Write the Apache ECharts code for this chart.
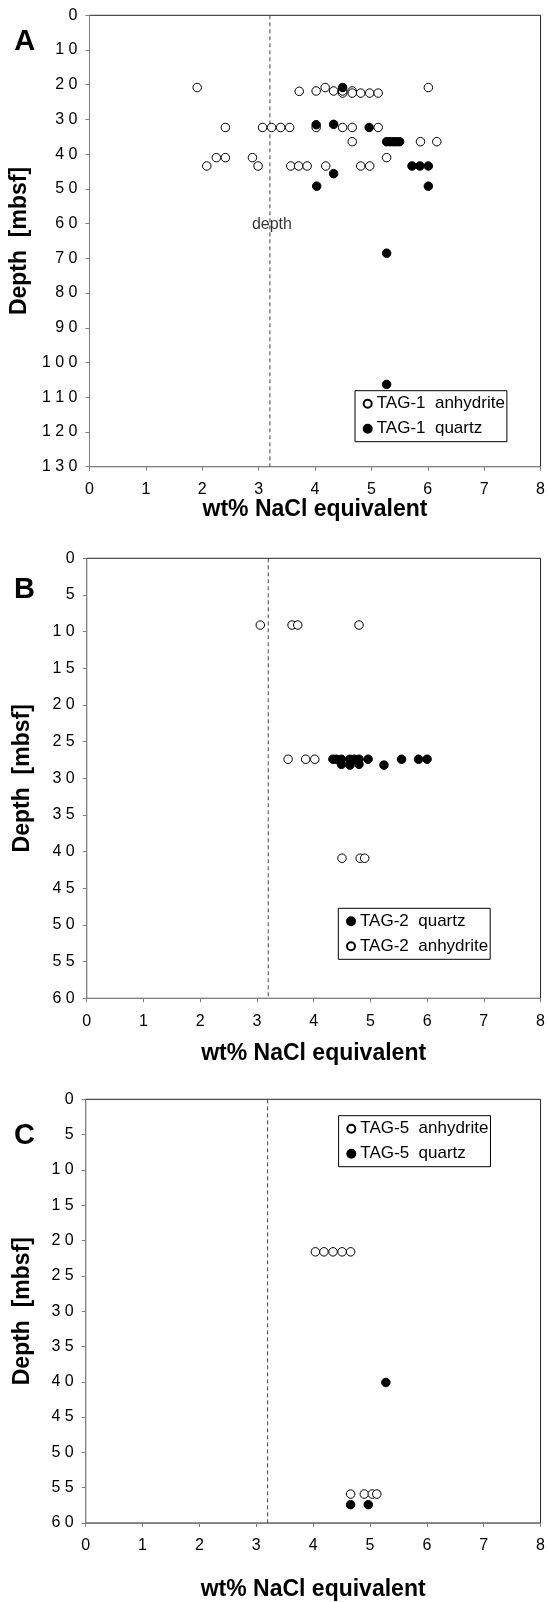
<!DOCTYPE html>
<html>
<head>
<meta charset="utf-8">
<script src="https://cdn.jsdelivr.net/npm/echarts@6/dist/echarts.min.js"></script>
<style>
html,body{margin:0;padding:0;background:#fff;}
#chart{width:548px;height:1602px;}
</style>
</head>
<body>
<div id="chart"></div>
<script>
// ---------- data ----------
const wtRange = [0, 8, 1];            // x axis min, max, step (wt% NaCl equivalent)
const depthRangeA = [0, 130, 10];     // y axis ranges (mbsf)
const depthRangeB = [0, 60, 5];
const depthRangeC = [0, 60, 5];
const seawaterWt = 3.2;               // dashed reference line
const depthLabelPoint = [3.2, 60.4];
const depthLabelText = 'depth';

const xName = 'wt% NaCl equivalent';
const yName = 'Depth  [mbsf]';
const panelLetters = ['A', 'B', 'C'];

// Panel A (TAG-1)
const tag1Anhydrite = [
  [1.91,20.8],[6.01,20.8],[3.72,21.9],[4.02,21.8],[4.18,20.8],[4.33,21.8],
  [4.49,22.4],[4.49,21.8],[4.66,21.8],[4.66,22.4],[4.81,22.4],[4.97,22.4],[5.12,22.4],
  [2.41,32.3],[3.07,32.3],[3.23,32.3],[3.39,32.3],[3.55,32.3],[4.02,32.3],
  [4.49,32.3],[4.66,32.3],[5.12,32.3],
  [4.66,36.4],[5.87,36.4],[6.16,36.4],
  [2.08,43.4],[2.25,41.0],[2.41,41.0],[2.89,41.0],[2.99,43.4],[3.57,43.4],
  [3.71,43.4],[3.86,43.4],[4.19,43.4],[4.81,43.4],[4.97,43.4],[5.27,41.0]
];
const tag1Quartz = [
  [4.49,20.8],[4.02,31.5],[4.33,31.4],[4.96,32.3],
  [5.27,36.4],[5.33,36.4],[5.39,36.4],[5.44,36.4],[5.50,36.4],
  [4.33,45.6],[5.72,43.4],[5.86,43.4],[6.01,43.4],
  [4.03,49.2],[6.01,49.2],[5.27,68.5],[5.27,106.3]
];
// Panel B (TAG-2)
const tag2Quartz = [
  [4.34,27.4],[4.40,27.4],[4.49,27.4],[4.64,27.4],[4.72,27.4],[4.80,27.4],[4.96,27.4],
  [4.49,28.1],[4.64,28.2],[4.80,28.1],[5.24,28.2],[5.55,27.4],[5.85,27.4],[6.00,27.4]
];
const tag2Anhydrite = [
  [3.06,9.1],[3.62,9.1],[3.72,9.1],[4.80,9.1],
  [3.55,27.4],[3.86,27.4],[4.02,27.4],
  [4.50,40.9],[4.82,40.9],[4.90,40.9]
];
// Panel C (TAG-5)
const tag5Anhydrite = [
  [4.04,21.6],[4.19,21.6],[4.35,21.6],[4.51,21.6],[4.66,21.6],
  [4.66,55.9],[4.90,55.9],[5.04,55.9],[5.12,55.9]
];
const tag5Quartz = [
  [5.28,40.1],[4.66,57.4],[4.97,57.4]
];

const names = {
  a1: 'TAG-1  anhydrite', q1: 'TAG-1  quartz',
  q2: 'TAG-2  quartz', a2: 'TAG-2  anhydrite',
  a5: 'TAG-5  anhydrite', q5: 'TAG-5  quartz'
};

// ---------- chart ----------
const FONT = '"Liberation Sans", Arial, Helvetica, sans-serif';
const grids = [
  {left: 82.7, top: 15.3, width: 460.6, height: 451.4},
  {left: 86.7, top: 558.3, width: 456.6, height: 440.0},
  {left: 85.7, top: 1099.3, width: 457.6, height: 426.1}
];
const xNameGaps = [31, 43.5, 55];
const yNameGaps = [47, 53, 52];
const depthRanges = [depthRangeA, depthRangeB, depthRangeC];
const letterPos = [[24.7, 42], [24.5, 589.7], [24.5, 1136]];

const spaced = v => String(v).split('').join(' ');

const xAxes = grids.map((g, i) => ({
  gridIndex: i, type: 'value', min: wtRange[0], max: wtRange[1], interval: wtRange[2],
  name: xName, nameLocation: 'middle', nameGap: xNameGaps[i],
  nameTextStyle: {fontFamily: FONT, fontWeight: 'bold', fontSize: 23, color: '#000'},
  axisLine: {show: true, onZero: false, lineStyle: {color: '#808080', width: 1}},
  axisTick: {show: true, inside: false, length: 4, lineStyle: {color: '#808080'}},
  axisLabel: {fontFamily: FONT, fontSize: 16, color: '#000', margin: 15, interval: 0,
              showMinLabel: true, showMaxLabel: true},
  splitLine: {show: false}
}));
const yAxes = grids.map((g, i) => ({
  gridIndex: i, type: 'value', inverse: true,
  min: depthRanges[i][0], max: depthRanges[i][1], interval: depthRanges[i][2],
  name: yName, nameLocation: 'middle', nameGap: yNameGaps[i], nameRotate: 90,
  nameTextStyle: {fontFamily: FONT, fontWeight: 'bold', fontSize: 23, color: '#000'},
  axisLine: {show: true, onZero: false, lineStyle: {color: '#808080', width: 1}},
  axisTick: {show: true, inside: false, length: 4, lineStyle: {color: '#808080'}},
  axisLabel: {fontFamily: FONT, fontSize: 16, color: '#000', margin: 12, interval: 0,
              formatter: spaced, showMinLabel: true, showMaxLabel: true},
  splitLine: {show: false}
}));

function scatter(name, data, gi, filled) {
  return {
    type: 'scatter', name, data, xAxisIndex: gi, yAxisIndex: gi,
    symbol: 'circle', symbolSize: 8.5, z: 3, silent: true,
    itemStyle: {color: filled ? '#000' : '#fff', borderColor: '#000', borderWidth: 1, opacity: 1},
    emphasis: {disabled: true}
  };
}
function refLine(gi) {
  const r = depthRanges[gi];
  return {
    type: 'line', data: [[seawaterWt, r[0]], [seawaterWt, r[1]]],
    xAxisIndex: gi, yAxisIndex: gi, symbol: 'none', silent: true, z: 1,
    lineStyle: {color: '#444', width: 1, type: [4, 3]},
    emphasis: {disabled: true}
  };
}

const series = [
  refLine(0), refLine(1), refLine(2),
  {
    type: 'scatter', data: [depthLabelPoint], xAxisIndex: 0, yAxisIndex: 0,
    symbolSize: 0, silent: true, z: 4,
    label: {show: true, position: 'inside', offset: [2, 0], formatter: depthLabelText,
            fontFamily: FONT, fontSize: 16, color: '#000'}
  },
  scatter(names.a1, tag1Anhydrite, 0, false),
  scatter(names.q1, tag1Quartz, 0, true),
  scatter(names.q2, tag2Quartz, 1, true),
  scatter(names.a2, tag2Anhydrite, 1, false),
  scatter(names.a5, tag5Anhydrite, 2, false),
  scatter(names.q5, tag5Quartz, 2, true)
];

function legend(data, left, top) {
  return {
    data: data.map(n => ({name: n, icon: 'circle'})),
    orient: 'vertical', left, top, selectedMode: false,
    backgroundColor: '#fff', borderColor: '#000', borderWidth: 1,
    padding: [4.5, 2, 4.5, 7.7], itemGap: 8, itemWidth: 8, itemHeight: 8,
    textStyle: {fontFamily: FONT, fontSize: 17, color: '#000', padding: [0, 0, 0, 0]}
  };
}

const option = {
  animation: false,
  backgroundColor: '#fff',
  textStyle: {fontFamily: FONT},
  grid: grids.map(g => Object.assign({show: true, borderColor: '#222', borderWidth: 1,
                                      backgroundColor: 'transparent', containLabel: false}, g)),
  xAxis: xAxes,
  yAxis: yAxes,
  legend: [
    legend([names.a1, names.q1], 355, 390.7),
    legend([names.q2, names.a2], 338.3, 908.3),
    legend([names.a5, names.q5], 338.6, 1115.7)
  ],
  graphic: panelLetters.map((t, i) => ({
    type: 'text', x: letterPos[i][0], y: letterPos[i][1], silent: true,
    style: {text: t, fill: '#000', font: 'bold 29px ' + FONT, align: 'center', verticalAlign: 'middle'}
  })),
  series
};

const chart = echarts.init(document.getElementById('chart'), null, {renderer: 'canvas'});
chart.setOption(option);
</script>
</body>
</html>
